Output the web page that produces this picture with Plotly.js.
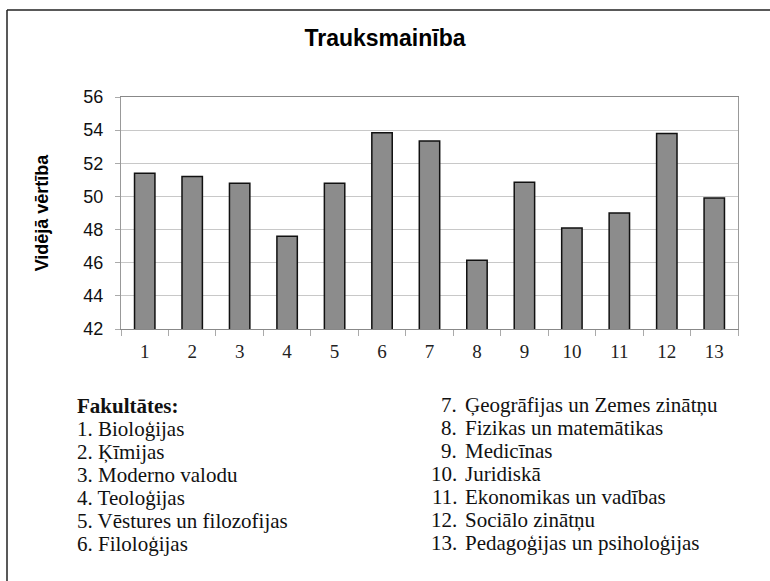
<!DOCTYPE html>
<html>
<head>
<meta charset="utf-8">
<script src="https://cdn.plot.ly/plotly-3.0.1.min.js"></script>
<style>body{margin:0;background:#fff}</style>
</head>
<body>
<div id="chart" style="width:770px;height:581px"></div>
<script>
// faculty numbers, names and mean scores
var categories = ["1","2","3","4","5","6","7","8","9","10","11","12","13"];
var values = [51.4, 51.2, 50.8, 47.6, 50.8, 53.85, 53.35, 46.15, 50.85, 48.1, 49.0, 53.8, 49.9];
var faculties = ["Bioloģijas", "Ķīmijas", "Moderno valodu", "Teoloģijas",
  "Vēstures un filozofijas", "Filoloģijas", "Ģeogrāfijas un Zemes zinātņu",
  "Fizikas un matemātikas", "Medicīnas", "Juridiskā", "Ekonomikas un vadības",
  "Sociālo zinātņu", "Pedagoģijas un psiholoģijas"];
var yTicks = [42, 44, 46, 48, 50, 52, 54, 56];

// plot area in px
var L = 121, R = 738, T = 97, B = 329, W = 770, H = 581;
function px(x) { return (x - L) / (R - L); }
function py(y) { return (B - y) / (B - T); }

var serif = "Liberation Serif, Times New Roman, serif";
var sans = "Liberation Sans, Arial, sans-serif";
var noteFont = {family: serif, size: 21, color: "#111"};

var notes = [];
notes.push({xref:"paper", yref:"paper", x:px(75), y:py(406), xanchor:"left", yanchor:"middle",
  text:"<b>Fakultātes:</b>", showarrow:false, font:noteFont});
for (var i = 0; i < faculties.length; i++) {
  if (i < 6) {
    notes.push({xref:"paper", yref:"paper", x:px(75), y:py(429 + 23 * i), xanchor:"left", yanchor:"middle",
      text:categories[i] + ". " + faculties[i], showarrow:false, font:noteFont});
  } else {
    var yy = py(405 + 23 * (i - 6));
    notes.push({xref:"paper", yref:"paper", x:px(459), y:yy, xanchor:"right", yanchor:"middle",
      text:categories[i] + ".", showarrow:false, font:noteFont});
    notes.push({xref:"paper", yref:"paper", x:px(463), y:yy, xanchor:"left", yanchor:"middle",
      text:faculties[i], showarrow:false, font:noteFont});
  }
}

var data = [{
  type: "bar",
  x: categories,
  y: values,
  marker: {color: "#8c8c8c", line: {color: "#111", width: 1.5}},
  hoverinfo: "x+y"
}];

var layout = {
  width: W, height: H,
  margin: {l: L, r: W - R, t: T, b: H - B},
  paper_bgcolor: "#fff", plot_bgcolor: "#fff",
  showlegend: false,
  bargap: 0.57,
  title: {text: "<b>Trauksmainība</b>", x: 0.5, xref: "container", y: 1 - 38 / H, yanchor: "middle",
    font: {family: sans, size: 23, color: "#000"}},
  xaxis: {
    type: "category", tickson: "boundaries", ticks: "outside", ticklen: 6, tickcolor: "#aaa",
    showline: true, linecolor: "#888", linewidth: 1, mirror: true, showgrid: false,
    tickfont: {family: serif, size: 19, color: "#222"}, ticklabelstandoff: 5
  },
  yaxis: {
    range: [42, 56], tickvals: yTicks, ticks: "outside", ticklen: 5, tickcolor: "#aaa",
    showline: true, linecolor: "#999", linewidth: 1, mirror: true,
    gridcolor: "#c8c8c8", zeroline: false, ticklabelstandoff: 8,
    tickfont: {family: sans, size: 18, color: "#111"},
    title: {text: "<b>Vidējā vērtība</b>", standoff: 30, font: {family: sans, size: 18, color: "#000"}}
  },
  annotations: notes,
  shapes: [
    {type: "line", xref: "paper", yref: "paper", x0: px(7), x1: px(W + 5), y0: py(10), y1: py(10),
      line: {color: "#222", width: 1.5}},
    {type: "line", xref: "paper", yref: "paper", x0: px(7), x1: px(7), y0: py(10), y1: py(H + 5),
      line: {color: "#222", width: 1.5}}
  ]
};

Plotly.newPlot("chart", data, layout, {displayModeBar: false, staticPlot: true});
</script>
</body>
</html>
